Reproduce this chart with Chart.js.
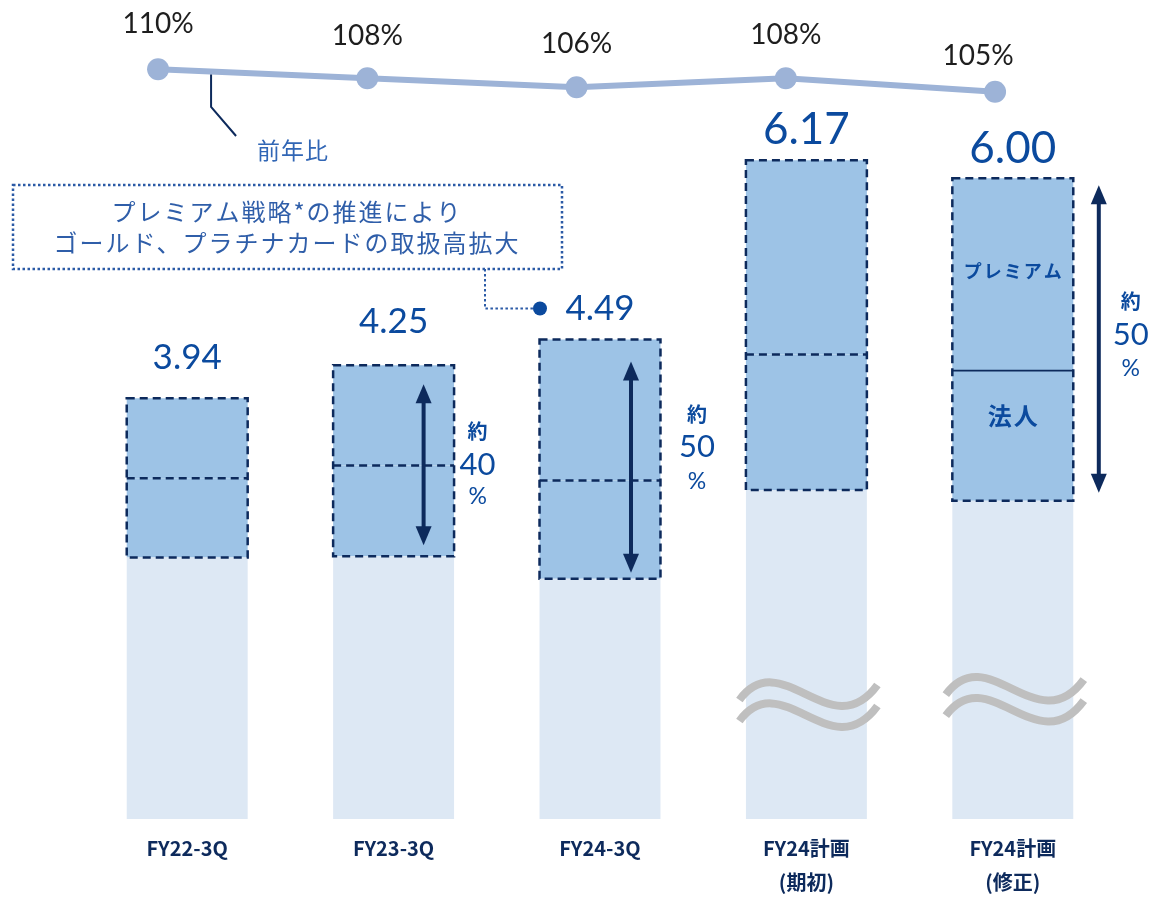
<!DOCTYPE html>
<html lang="ja">
<head>
<meta charset="utf-8">
<title>取扱高の推移</title>
<script src="https://cdn.jsdelivr.net/npm/chart.js@4/dist/chart.umd.min.js"></script>
<style>
  html, body { margin: 0; padding: 0; background: #fff; }
  #wrap { width: 1150px; height: 899px; }
</style>
</head>
<body>
<div id="wrap"><canvas id="chart" width="1150" height="899"></canvas></div>
<script>
// 取扱高（兆円）：その他／法人／プレミアム と 前年比
const periods = ['FY22-3Q', 'FY23-3Q', 'FY24-3Q', ['FY24計画', '(期初)'], ['FY24計画', '(修正)']];
const totals = [3.94, 4.25, 4.49, 6.17, 6.00];
const others = [2.45, 2.46, 2.25, 3.08, 2.98];
const corporate = [0.74, 0.85, 0.92, 1.27, 1.22];
// プレミアム = 合計 - その他 - 法人
const premium = totals.map((t, i) => +(t - others[i] - corporate[i]).toFixed(2));
const yoy = [110, 108, 106, 108, 105];
const yoyLabels = ['110%', '108%', '106%', '108%', '105%'];
const shareNotes = [null, '40', '50', null, '50'];

const ink = '#0d2a5c';
const blue = '#0b4a9e';
const numFont = 'Lato, "Noto Sans", sans-serif';
const jpFont = '"Noto Sans CJK JP", sans-serif';

function seg(ctx, x1, y1, x2, y2) {
    ctx.beginPath();
    ctx.moveTo(x1, y1);
    ctx.lineTo(x2, y2);
    ctx.stroke();
}

function arrow(ctx, x, top, bottom) {
    const hw = 8, hh = 19;
    ctx.strokeStyle = ink;
    ctx.fillStyle = ink;
    ctx.lineWidth = 4;
    ctx.setLineDash([]);
    seg(ctx, x, top + hh - 2, x, bottom - hh + 2);
    ctx.beginPath();
    ctx.moveTo(x, top); ctx.lineTo(x - hw, top + hh); ctx.lineTo(x + hw, top + hh);
    ctx.closePath(); ctx.fill();
    ctx.beginPath();
    ctx.moveTo(x, bottom); ctx.lineTo(x - hw, bottom - hh); ctx.lineTo(x + hw, bottom - hh);
    ctx.closePath(); ctx.fill();
}

function wave(ctx, cx, cy) {
    ctx.beginPath();
    ctx.moveTo(cx - 67, cy + 7);
    ctx.bezierCurveTo(cx - 25, cy - 50, cx + 25, cy + 55, cx + 71, cy - 8);
    ctx.stroke();
}

// 矢印と「約〇%」の置き方（バーごと）
const arrowSpec = {
    1: { dx: 30, inTop: 19, inBot: 11, tx: 84, ty: [-33, 0, 32] },
    2: { dx: 31, inTop: 22, inBot: 6, tx: 97, ty: [-53, -20, 14] },
    4: { dx: 86, inTop: 7, inBot: 8, tx: 118, ty: [-38, -4, 30] }
};
const labelGap = [41, 43, 31, 30, 30];
const yoyDx = [0, 0, 0, 0, -17];
const yoyDy = [45, 42, 43, 43, 36];
const breakAt = { 3: 1.18, 4: 1.23 };

const decor = {
    id: 'decor',
    afterDatasetsDraw(chart) {
        const ctx = chart.ctx;
        const ys = chart.scales.y;
        const corp = chart.getDatasetMeta(1).data;
        const prem = chart.getDatasetMeta(2).data;
        const pts = chart.getDatasetMeta(3).data;
        ctx.save();

        // 法人＋プレミアムの破線枠
        prem.forEach((p, i) => {
            const c = corp[i];
            const left = p.x - p.width / 2, right = p.x + p.width / 2;
            ctx.strokeStyle = ink;
            ctx.lineWidth = 2.5;
            ctx.setLineDash([8, 5]);
            ctx.strokeRect(left, p.y, right - left, c.base - p.y);
            if (i === 4) {
                ctx.setLineDash([]);
                ctx.lineWidth = 1.8;
            }
            seg(ctx, left, c.y, right, c.y);
        });
        ctx.setLineDash([]);

        // 省略記号（波線）
        ctx.strokeStyle = '#bfbfbf';
        ctx.lineWidth = 8;
        ctx.lineCap = 'butt';
        Object.keys(breakAt).forEach(k => {
            const b = chart.getDatasetMeta(0).data[k];
            const cy = ys.getPixelForValue(breakAt[k]);
            wave(ctx, b.x, cy);
            wave(ctx, b.x, cy + 21);
        });

        // 合計値
        ctx.textAlign = 'center';
        ctx.textBaseline = 'middle';
        ctx.fillStyle = blue;
        prem.forEach((p, i) => {
            ctx.font = (i >= 3 ? '44px ' : '35px ') + numFont;
            ctx.fillText(totals[i].toFixed(2), p.x, p.y - labelGap[i]);
        });

        // 矢印と約〇%
        Object.keys(arrowSpec).forEach(k => {
            const s = arrowSpec[k], p = prem[k], c = corp[k];
            const top = p.y + s.inTop, bottom = c.base - s.inBot;
            arrow(ctx, p.x + s.dx, top, bottom);
            const mid = (top + bottom) / 2, tx = p.x + s.tx;
            ctx.fillStyle = blue;
            ctx.font = 'bold 20px ' + jpFont;
            ctx.fillText('約', tx, mid + s.ty[0]);
            ctx.font = '31px ' + numFont;
            ctx.fillText(shareNotes[k], tx, mid + s.ty[1]);
            ctx.font = '23px ' + numFont;
            ctx.fillText('%', tx, mid + s.ty[2]);
        });

        // 修正計画の内訳ラベル
        const p4 = prem[4], c4 = corp[4];
        ctx.fillStyle = blue;
        ctx.font = 'bold 18px ' + jpFont;
        ctx.letterSpacing = '2px';
        ctx.fillText('プレミアム', p4.x + 1, (p4.y + c4.y) / 2 - 3);
        ctx.font = 'bold 24px ' + jpFont;
        ctx.fillText('法人', c4.x + 1, c4.y + 45);
        ctx.letterSpacing = '0px';

        // 前年比ラベル
        ctx.fillStyle = '#1e1e1e';
        ctx.font = '28px ' + numFont;
        pts.forEach((pt, i) => {
            ctx.fillText(yoyLabels[i], pt.x + yoyDx[i], pt.y - yoyDy[i]);
        });

        // 前年比の引き出し線
        const a = pts[0], b = pts[1];
        const lx = a.x + 53;
        const ly = a.y + (b.y - a.y) * (lx - a.x) / (b.x - a.x) + 3;
        ctx.strokeStyle = ink;
        ctx.lineWidth = 2;
        ctx.beginPath();
        ctx.moveTo(lx, ly);
        ctx.lineTo(lx, 107);
        ctx.lineTo(lx + 25, 136);
        ctx.stroke();
        ctx.fillStyle = '#3166b5';
        ctx.font = '23px ' + jpFont;
        ctx.letterSpacing = '1px';
        ctx.fillText('前年比', lx + 82, 150);

        // 吹き出し枠
        const p2 = prem[2];
        const dotX = p2.x - 60, dotY = p2.y - labelGap[2];
        ctx.strokeStyle = '#2b5aa6';
        ctx.lineWidth = 2.5;
        ctx.setLineDash([2.5, 2.5]);
        ctx.strokeRect(13, 185, 549, 84);
        ctx.beginPath();
        ctx.moveTo(485, 269);
        ctx.lineTo(485, dotY);
        ctx.lineTo(dotX - 6, dotY);
        ctx.lineWidth = 2;
        ctx.stroke();
        ctx.setLineDash([]);
        ctx.fillStyle = blue;
        ctx.beginPath();
        ctx.arc(dotX, dotY, 7, 0, Math.PI * 2);
        ctx.fill();

        ctx.fillStyle = '#2f5ea9';
        ctx.font = '24px ' + jpFont;
        ctx.letterSpacing = '2px';
        ctx.fillText('プレミアム戦略*の推進により', 287, 212);
        ctx.fillText('ゴールド、プラチナカードの取扱高拡大', 287, 243);
        ctx.restore();
    }
};

new Chart(document.getElementById('chart'), {
    type: 'bar',
    data: {
        labels: periods,
        datasets: [
            { label: 'その他', data: others, backgroundColor: '#dde8f4', stack: 's', order: 2 },
            { label: '法人', data: corporate, backgroundColor: '#9dc3e6', stack: 's', order: 2 },
            { label: 'プレミアム', data: premium, backgroundColor: '#9dc3e6', stack: 's', order: 2 },
            {
                type: 'line',
                label: '前年比',
                data: yoy.map((v, i) => ({ x: i, y: v })),
                xAxisID: 'xLine',
                yAxisID: 'yLine',
                borderColor: '#9db3d7',
                backgroundColor: '#9db3d7',
                borderWidth: 6,
                pointRadius: 11,
                pointHoverRadius: 11,
                pointBorderWidth: 0,
                tension: 0,
                order: 1
            }
        ]
    },
    options: {
        responsive: false,
        animation: false,
        devicePixelRatio: 1,
        datasets: { bar: { grouped: false, barPercentage: 0.586, categoryPercentage: 1, borderWidth: 0 } },
        layout: { autoPadding: false, padding: { left: 84, right: 34, top: 0, bottom: 0 } },
        plugins: { legend: { display: false }, tooltip: { enabled: false } },
        scales: {
            x: {
                stacked: true,
                grid: { display: false },
                border: { display: false },
                ticks: {
                    color: ink,
                    padding: 4,
                    maxRotation: 0,
                    font: { family: jpFont, size: 20, weight: 'bold', lineHeight: 1.7 }
                },
                afterFit: s => { s.height = 80; }
            },
            y: { stacked: true, display: false, min: 0, max: 7.67 },
            xLine: { type: 'linear', display: false, offset: false, min: -0.354, max: 4.578 },
            yLine: { type: 'linear', display: false, position: 'right', min: -56.6, max: 125.4 }
        }
    },
    plugins: [decor]
});
</script>
</body>
</html>
